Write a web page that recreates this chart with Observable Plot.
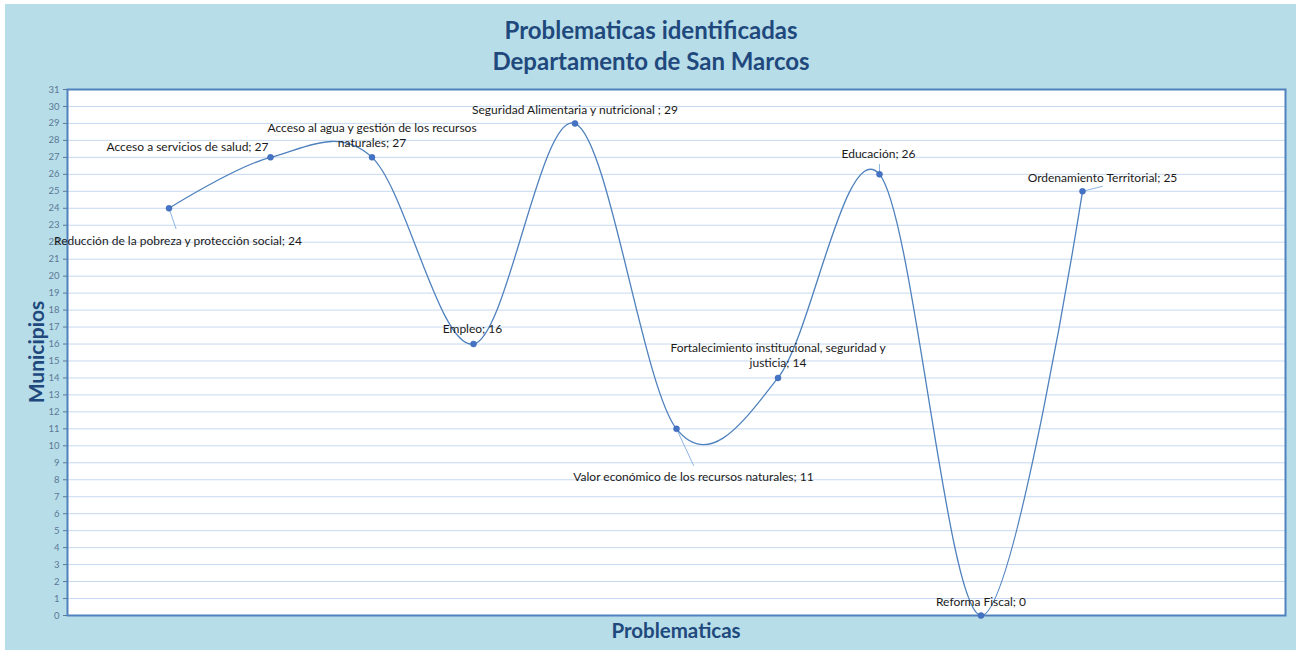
<!DOCTYPE html>
<html><head><meta charset="utf-8">
<script src="https://cdn.jsdelivr.net/npm/d3@7"></script>
<script src="https://cdn.jsdelivr.net/npm/@observablehq/plot@0.6"></script>
<style>
body{margin:0;background:#fff;font-family:Lato,"Open Sans",sans-serif;}
#wrap{position:relative;width:1302px;height:654px;overflow:hidden;}
#panel{position:absolute;left:5px;top:4px;width:1291px;height:646px;background:#b7dde8;}
#chart{position:absolute;left:0;top:0;}
.title{position:absolute;left:0;width:1302px;text-align:center;color:#1f497d;font-weight:bold;font-size:24px;line-height:31px;top:14px;}
.xlab{position:absolute;left:526px;width:300px;text-align:center;top:618px;color:#1f497d;font-weight:bold;font-size:20.5px;}
.ylab{position:absolute;left:35px;top:352px;transform:translate(-50%,-50%) rotate(-90deg);color:#1f497d;font-weight:bold;font-size:21px;white-space:nowrap;}
</style></head>
<body>
<div id="wrap">
  <div id="panel"></div>
  <div id="chart"></div>
  <div class="title">Problematicas identificadas<br>Departamento de San Marcos</div>
  <div class="ylab">Municipios</div>
  <div class="xlab">Problematicas</div>
</div>
<script>
const categories = [
  "Reducción de la pobreza y protección social",
  "Acceso a servicios de salud",
  "Acceso al agua y gestión de los recursos naturales",
  "Empleo",
  "Seguridad Alimentaria y nutricional ",
  "Valor económico de los recursos naturales",
  "Fortalecimiento institucional, seguridad y justicia",
  "Educación",
  "Reforma Fiscal",
  "Ordenamiento Territorial"
];
const municipios = [24, 27, 27, 16, 29, 11, 14, 26, 0, 25];
const dataLabels = [
  "Reducción de la pobreza y protección social; 24",
  "Acceso a servicios de salud; 27",
  "Acceso al agua y gestión de los recursos\nnaturales; 27",
  "Empleo; 16",
  "Seguridad Alimentaria y nutricional ; 29",
  "Valor económico de los recursos naturales; 11",
  "Fortalecimiento institucional, seguridad y\njusticia; 14",
  "Educación; 26",
  "Reforma Fiscal; 0",
  "Ordenamiento Territorial; 25"
];
const yTicks = d3.range(0, 32);

const data = categories.map((c, i) => ({pos: i + 1, cat: c, value: municipios[i], label: dataLabels[i]}));

// label placement (pixels) and leader lines (data units)
const labelOffsets = [[9, 32], [-83, -11], [0, -23], [-1, -16], [0, -14], [17, 47], [0, -23], [-1, -21], [0, -14], [20, -14]];
const leaders = [[0, 0.07, -1.22], [5, 0.17, -2.18], [7, 0, 0.6], [9, 0.2, 0.3]];

const labelMarks = data.map((d, i) => Plot.text([d], {
  x: "pos", y: "value", text: "label",
  dx: labelOffsets[i][0], dy: labelOffsets[i][1],
  fontSize: 12, fill: "#1a1a1a", lineHeight: 1.25, lineAnchor: "middle"
}));

const leaderData = leaders.map(([i, lx, ly]) => ({x1: data[i].pos, y1: data[i].value, x2: data[i].pos + lx, y2: data[i].value + ly}));

const chart = Plot.plot({
  width: 1302, height: 654,
  marginLeft: 67, marginRight: 17, marginTop: 89, marginBottom: 39,
  style: {background: "transparent", fontFamily: "Lato, sans-serif"},
  x: {type: "linear", domain: [0, 12], axis: null},
  y: {domain: [0, 31], axis: null},
  marks: [
    Plot.frame({fill: "white", stroke: null}),
    Plot.gridY(yTicks, {stroke: "#c6d9f1", strokeOpacity: 1, strokeWidth: 1}),
    Plot.axisY({ticks: yTicks, tickSize: 4, tickPadding: 4, fontSize: 9.5, color: "#5c7896", label: null, tickFormat: d => d}),
    Plot.frame({stroke: "#4f81bd", strokeWidth: 2}),
    Plot.link(leaderData, {x1: "x1", y1: "y1", x2: "x2", y2: "y2", stroke: "#8db4e2", strokeWidth: 1}),
    Plot.line(data, {x: "pos", y: "value", curve: "cardinal", stroke: "#4f81bd", strokeWidth: 1.3, clip: true}),
    Plot.dot(data, {x: "pos", y: "value", r: 3, fill: "#4472c4", stroke: "#3a64b0", strokeWidth: 0.5}),
    ...labelMarks
  ]
});
document.getElementById("chart").appendChild(chart);
</script>
</body></html>
